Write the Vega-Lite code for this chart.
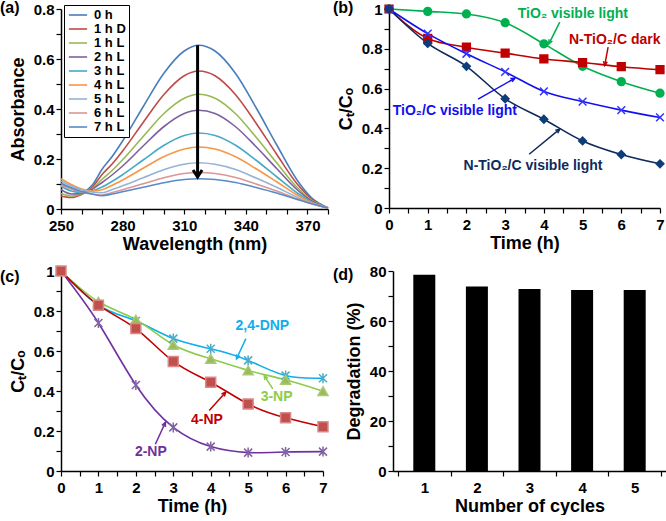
{
 "$schema": "https://vega.github.io/schema/vega-lite/v6.json",
 "padding": {"left": 0, "top": 0, "right": 0, "bottom": 0},
 "background": "white",
 "datasets": {
  "spec": [
   {"s":"0 h","nm":250,"A":0.100},{"s":"0 h","nm":255,"A":0.082},{"s":"0 h","nm":260,"A":0.068},{"s":"0 h","nm":265,"A":0.094},{"s":"0 h","nm":270,"A":0.159},{"s":"0 h","nm":275,"A":0.211},{"s":"0 h","nm":280,"A":0.272},{"s":"0 h","nm":290,"A":0.409},{"s":"0 h","nm":300,"A":0.542},{"s":"0 h","nm":310,"A":0.632},{"s":"0 h","nm":317,"A":0.655},{"s":"0 h","nm":325,"A":0.632},{"s":"0 h","nm":335,"A":0.542},{"s":"0 h","nm":345,"A":0.405},{"s":"0 h","nm":355,"A":0.257},{"s":"0 h","nm":365,"A":0.115},{"s":"0 h","nm":372,"A":0.045},{"s":"0 h","nm":380,"A":0.005},
   {"s":"1 h D","nm":250,"A":0.052},{"s":"1 h D","nm":255,"A":0.046},{"s":"1 h D","nm":260,"A":0.058},{"s":"1 h D","nm":265,"A":0.085},{"s":"1 h D","nm":270,"A":0.138},{"s":"1 h D","nm":275,"A":0.181},{"s":"1 h D","nm":280,"A":0.232},{"s":"1 h D","nm":290,"A":0.346},{"s":"1 h D","nm":300,"A":0.457},{"s":"1 h D","nm":310,"A":0.533},{"s":"1 h D","nm":317,"A":0.552},{"s":"1 h D","nm":325,"A":0.533},{"s":"1 h D","nm":335,"A":0.457},{"s":"1 h D","nm":345,"A":0.343},{"s":"1 h D","nm":355,"A":0.219},{"s":"1 h D","nm":365,"A":0.100},{"s":"1 h D","nm":372,"A":0.040},{"s":"1 h D","nm":380,"A":0.004},
   {"s":"1 h L","nm":250,"A":0.062},{"s":"1 h L","nm":255,"A":0.052},{"s":"1 h L","nm":260,"A":0.060},{"s":"1 h L","nm":265,"A":0.080},{"s":"1 h L","nm":270,"A":0.119},{"s":"1 h L","nm":275,"A":0.155},{"s":"1 h L","nm":280,"A":0.197},{"s":"1 h L","nm":290,"A":0.290},{"s":"1 h L","nm":300,"A":0.381},{"s":"1 h L","nm":310,"A":0.443},{"s":"1 h L","nm":317,"A":0.459},{"s":"1 h L","nm":325,"A":0.443},{"s":"1 h L","nm":335,"A":0.381},{"s":"1 h L","nm":345,"A":0.287},{"s":"1 h L","nm":355,"A":0.185},{"s":"1 h L","nm":365,"A":0.086},{"s":"1 h L","nm":372,"A":0.035},{"s":"1 h L","nm":380,"A":0.004},
   {"s":"2 h L","nm":250,"A":0.078},{"s":"2 h L","nm":255,"A":0.060},{"s":"2 h L","nm":260,"A":0.062},{"s":"2 h L","nm":265,"A":0.078},{"s":"2 h L","nm":270,"A":0.106},{"s":"2 h L","nm":275,"A":0.137},{"s":"2 h L","nm":280,"A":0.172},{"s":"2 h L","nm":290,"A":0.252},{"s":"2 h L","nm":300,"A":0.329},{"s":"2 h L","nm":310,"A":0.382},{"s":"2 h L","nm":317,"A":0.395},{"s":"2 h L","nm":325,"A":0.382},{"s":"2 h L","nm":335,"A":0.329},{"s":"2 h L","nm":345,"A":0.249},{"s":"2 h L","nm":355,"A":0.162},{"s":"2 h L","nm":365,"A":0.077},{"s":"2 h L","nm":372,"A":0.032},{"s":"2 h L","nm":380,"A":0.004},
   {"s":"3 h L","nm":250,"A":0.090},{"s":"3 h L","nm":255,"A":0.072},{"s":"3 h L","nm":260,"A":0.066},{"s":"3 h L","nm":265,"A":0.072},{"s":"3 h L","nm":270,"A":0.088},{"s":"3 h L","nm":275,"A":0.111},{"s":"3 h L","nm":280,"A":0.137},{"s":"3 h L","nm":290,"A":0.196},{"s":"3 h L","nm":300,"A":0.254},{"s":"3 h L","nm":310,"A":0.294},{"s":"3 h L","nm":317,"A":0.304},{"s":"3 h L","nm":325,"A":0.294},{"s":"3 h L","nm":335,"A":0.255},{"s":"3 h L","nm":345,"A":0.195},{"s":"3 h L","nm":355,"A":0.129},{"s":"3 h L","nm":365,"A":0.064},{"s":"3 h L","nm":372,"A":0.028},{"s":"3 h L","nm":380,"A":0.004},
   {"s":"4 h L","nm":250,"A":0.121},{"s":"4 h L","nm":255,"A":0.098},{"s":"4 h L","nm":260,"A":0.080},{"s":"4 h L","nm":265,"A":0.072},{"s":"4 h L","nm":270,"A":0.077},{"s":"4 h L","nm":275,"A":0.095},{"s":"4 h L","nm":280,"A":0.116},{"s":"4 h L","nm":290,"A":0.163},{"s":"4 h L","nm":300,"A":0.209},{"s":"4 h L","nm":310,"A":0.240},{"s":"4 h L","nm":317,"A":0.248},{"s":"4 h L","nm":325,"A":0.240},{"s":"4 h L","nm":335,"A":0.209},{"s":"4 h L","nm":345,"A":0.161},{"s":"4 h L","nm":355,"A":0.109},{"s":"4 h L","nm":365,"A":0.056},{"s":"4 h L","nm":372,"A":0.026},{"s":"4 h L","nm":380,"A":0.004},
   {"s":"5 h L","nm":250,"A":0.112},{"s":"5 h L","nm":255,"A":0.092},{"s":"5 h L","nm":260,"A":0.077},{"s":"5 h L","nm":265,"A":0.068},{"s":"5 h L","nm":270,"A":0.065},{"s":"5 h L","nm":275,"A":0.078},{"s":"5 h L","nm":280,"A":0.093},{"s":"5 h L","nm":290,"A":0.125},{"s":"5 h L","nm":300,"A":0.157},{"s":"5 h L","nm":310,"A":0.179},{"s":"5 h L","nm":317,"A":0.185},{"s":"5 h L","nm":325,"A":0.179},{"s":"5 h L","nm":335,"A":0.158},{"s":"5 h L","nm":345,"A":0.124},{"s":"5 h L","nm":355,"A":0.087},{"s":"5 h L","nm":365,"A":0.047},{"s":"5 h L","nm":372,"A":0.023},{"s":"5 h L","nm":380,"A":0.004},
   {"s":"6 h L","nm":250,"A":0.095},{"s":"6 h L","nm":255,"A":0.080},{"s":"6 h L","nm":260,"A":0.068},{"s":"6 h L","nm":265,"A":0.060},{"s":"6 h L","nm":270,"A":0.056},{"s":"6 h L","nm":275,"A":0.066},{"s":"6 h L","nm":280,"A":0.077},{"s":"6 h L","nm":290,"A":0.101},{"s":"6 h L","nm":300,"A":0.125},{"s":"6 h L","nm":310,"A":0.142},{"s":"6 h L","nm":317,"A":0.146},{"s":"6 h L","nm":325,"A":0.142},{"s":"6 h L","nm":335,"A":0.126},{"s":"6 h L","nm":345,"A":0.100},{"s":"6 h L","nm":355,"A":0.072},{"s":"6 h L","nm":365,"A":0.041},{"s":"6 h L","nm":372,"A":0.021},{"s":"6 h L","nm":380,"A":0.004},
   {"s":"7 h L","nm":250,"A":0.103},{"s":"7 h L","nm":255,"A":0.085},{"s":"7 h L","nm":260,"A":0.070},{"s":"7 h L","nm":265,"A":0.060},{"s":"7 h L","nm":270,"A":0.053},{"s":"7 h L","nm":275,"A":0.060},{"s":"7 h L","nm":280,"A":0.069},{"s":"7 h L","nm":290,"A":0.087},{"s":"7 h L","nm":300,"A":0.105},{"s":"7 h L","nm":310,"A":0.118},{"s":"7 h L","nm":317,"A":0.121},{"s":"7 h L","nm":325,"A":0.118},{"s":"7 h L","nm":335,"A":0.106},{"s":"7 h L","nm":345,"A":0.086},{"s":"7 h L","nm":355,"A":0.064},{"s":"7 h L","nm":365,"A":0.038},{"s":"7 h L","nm":372,"A":0.021},{"s":"7 h L","nm":380,"A":0.004}
  ],
  "kin": [
   {"s":"TiO2 visible light","t":0,"c":1},{"s":"TiO2 visible light","t":1,"c":0.988},{"s":"TiO2 visible light","t":2,"c":0.975},{"s":"TiO2 visible light","t":3,"c":0.931},{"s":"TiO2 visible light","t":4,"c":0.825},{"s":"TiO2 visible light","t":5,"c":0.712},{"s":"TiO2 visible light","t":6,"c":0.635},{"s":"TiO2 visible light","t":7,"c":0.577},
   {"s":"N-TiO2/C dark","t":0,"c":1},{"s":"N-TiO2/C dark","t":1,"c":0.852},{"s":"N-TiO2/C dark","t":2,"c":0.808},{"s":"N-TiO2/C dark","t":3,"c":0.778},{"s":"N-TiO2/C dark","t":4,"c":0.749},{"s":"N-TiO2/C dark","t":5,"c":0.731},{"s":"N-TiO2/C dark","t":6,"c":0.710},{"s":"N-TiO2/C dark","t":7,"c":0.695},
   {"s":"TiO2/C visible light","t":0,"c":1},{"s":"TiO2/C visible light","t":1,"c":0.876},{"s":"TiO2/C visible light","t":2,"c":0.775},{"s":"TiO2/C visible light","t":3,"c":0.684},{"s":"TiO2/C visible light","t":4,"c":0.586},{"s":"TiO2/C visible light","t":5,"c":0.535},{"s":"TiO2/C visible light","t":6,"c":0.492},{"s":"TiO2/C visible light","t":7,"c":0.455},
   {"s":"N-TiO2/C visible light","t":0,"c":1},{"s":"N-TiO2/C visible light","t":1,"c":0.827},{"s":"N-TiO2/C visible light","t":2,"c":0.712},{"s":"N-TiO2/C visible light","t":3,"c":0.549},{"s":"N-TiO2/C visible light","t":4,"c":0.446},{"s":"N-TiO2/C visible light","t":5,"c":0.337},{"s":"N-TiO2/C visible light","t":6,"c":0.269},{"s":"N-TiO2/C visible light","t":7,"c":0.222}
  ],
  "kinArrows": [
   {"s":"TiO2 visible light","t":4.41,"c":0.934,"t2":4.13,"c2":0.825},
   {"s":"N-TiO2/C dark","t":5.66,"c":0.808,"t2":5.57,"c2":0.716},
   {"s":"TiO2/C visible light","t":2.30,"c":0.547,"t2":3.25,"c2":0.652},
   {"s":"N-TiO2/C visible light","t":3.62,"c":0.270,"t2":4.41,"c2":0.396}
  ],
  "kinLabels": [
   {"s":"TiO2 visible light","t":4.75,"c":0.977,"label":"TiO₂ visible light"},
   {"s":"N-TiO2/C dark","t":5.83,"c":0.842,"label":"N-TiO₂/C dark"},
   {"s":"TiO2/C visible light","t":1.70,"c":0.488,"label":"TiO₂/C visible light"},
   {"s":"N-TiO2/C visible light","t":3.72,"c":0.211,"label":"N-TiO₂/C visible light"}
  ],
  "np": [
   {"s":"2,4-DNP","t":0,"c":1},{"s":"2,4-DNP","t":1,"c":0.829},{"s":"2,4-DNP","t":2,"c":0.750},{"s":"2,4-DNP","t":3,"c":0.662},{"s":"2,4-DNP","t":4,"c":0.611},{"s":"2,4-DNP","t":5,"c":0.553},{"s":"2,4-DNP","t":6,"c":0.477},{"s":"2,4-DNP","t":7,"c":0.464},
   {"s":"3-NP","t":0,"c":1},{"s":"3-NP","t":1,"c":0.846},{"s":"3-NP","t":2,"c":0.757},{"s":"3-NP","t":3,"c":0.631},{"s":"3-NP","t":4,"c":0.561},{"s":"3-NP","t":5,"c":0.503},{"s":"3-NP","t":6,"c":0.456},{"s":"3-NP","t":7,"c":0.399},
   {"s":"2-NP","t":0,"c":1},{"s":"2-NP","t":1,"c":0.740},{"s":"2-NP","t":2,"c":0.430},{"s":"2-NP","t":3,"c":0.218},{"s":"2-NP","t":4,"c":0.122},{"s":"2-NP","t":5,"c":0.092},{"s":"2-NP","t":6,"c":0.095},{"s":"2-NP","t":7,"c":0.097},
   {"s":"4-NP","t":0,"c":1},{"s":"4-NP","t":1,"c":0.829},{"s":"4-NP","t":2,"c":0.712},{"s":"4-NP","t":3,"c":0.548},{"s":"4-NP","t":4,"c":0.444},{"s":"4-NP","t":5,"c":0.335},{"s":"4-NP","t":6,"c":0.266},{"s":"4-NP","t":7,"c":0.221}
  ],
  "npArrows": [
   {"s":"2,4-DNP","t":4.94,"c":0.662,"t2":4.69,"c2":0.561},
   {"s":"3-NP","t":5.66,"c":0.411,"t2":5.43,"c2":0.477},
   {"s":"4-NP","t":3.96,"c":0.302,"t2":4.40,"c2":0.394},
   {"s":"2-NP","t":2.52,"c":0.134,"t2":2.79,"c2":0.243}
  ],
  "npLabels": [
   {"s":"2,4-DNP","t":5.38,"c":0.727,"label":"2,4-DNP"},
   {"s":"3-NP","t":5.76,"c":0.370,"label":"3-NP"},
   {"s":"4-NP","t":3.90,"c":0.255,"label":"4-NP"},
   {"s":"2-NP","t":2.40,"c":0.094,"label":"2-NP"}
  ],
  "cyc": [
   {"cycle":1,"deg":78.5},{"cycle":2,"deg":73.8},{"cycle":3,"deg":72.8},{"cycle":4,"deg":72.4},{"cycle":5,"deg":72.4}
  ]
 },
 "spacing": 10,
 "resolve": {"scale": {"x": "independent", "y": "independent", "color": "independent", "fill": "independent", "stroke": "independent", "shape": "independent"}},
 "vconcat": [
  {
   "spacing": 61,
   "bounds": "flush",
   "resolve": {"scale": {"x": "independent", "y": "independent", "color": "independent", "fill": "independent", "stroke": "independent", "shape": "independent"}},
   "hconcat": [
    {
     "width": 267, "height": 200,
     "title": {"text": "(a)", "dx": -61},
     "layer": [
      {
       "data": {"name": "spec"},
       "mark": {"type": "line", "strokeWidth": 1.6, "interpolate": "monotone"},
       "encoding": {
        "x": {"field": "nm", "type": "quantitative", "scale": {"domain": [250, 380], "nice": false, "zero": false},
              "axis": {"title": "Wavelength (nm)", "values": [250,260,270,280,290,300,310,320,330,340,350,360,370,380], "labelExpr": "(datum.value-250)%30==0 ? format(datum.value,'d') : ''"}},
        "y": {"field": "A", "type": "quantitative", "scale": {"domain": [0, 0.8], "nice": false},
              "axis": {"title": "Absorbance", "values": [0,0.1,0.2,0.3,0.4,0.5,0.6,0.7,0.8], "labelExpr": "round(datum.value*10)%2==0 ? format(datum.value,'~g') : ''"}},
        "color": {"field": "s", "type": "nominal",
                  "scale": {"domain": ["0 h","1 h D","1 h L","2 h L","3 h L","4 h L","5 h L","6 h L","7 h L"],
                            "range": ["#4A7EBB","#BE4B48","#98B954","#7D60A0","#46AAC5","#F79646","#95B3D7","#D99795","#5A8AC6"]},
                  "legend": {"orient": "none", "legendX": 3, "legendY": -4, "title": null, "symbolType": "M-1.6,0L1.6,0", "symbolSize": 130, "symbolStrokeWidth": 1.6, "symbolOffset": 4, "labelFontSize": 13, "labelFontWeight": "bold", "labelFont": "Liberation Sans", "labelColor": "black", "rowPadding": 0, "padding": 3, "strokeColor": "black", "fillColor": "white", "labelOffset": 9}}
       }
      },
      {
       "data": {"values": [{"nm": 316.5, "A": 0.655, "tip": 0.13}]},
       "mark": {"type": "rule", "strokeWidth": 3, "color": "black"},
       "encoding": {"x": {"field": "nm", "type": "quantitative"}, "y": {"field": "A", "type": "quantitative"}, "y2": {"field": "tip"}}
      },
      {
       "data": {"values": [{"nm": 316.5, "A": 0.128}]},
       "mark": {"type": "point", "shape": "M-0.9,-1.4L0,0L0.9,-1.4", "filled": false, "strokeWidth": 3, "color": "black", "size": 100, "opacity": 1},
       "encoding": {"x": {"field": "nm", "type": "quantitative"}, "y": {"field": "A", "type": "quantitative"}}
      }
     ]
    },
    {
     "width": 271, "height": 199,
     "title": {"text": "(b)", "dx": -56},
     "layer": [
      {
       "data": {"name": "kin"},
       "mark": {"type": "line", "strokeWidth": 1.6, "interpolate": "monotone"},
       "encoding": {
        "x": {"field": "t", "type": "quantitative", "scale": {"domain": [0, 7], "nice": false},
              "axis": {"title": "Time (h)", "values": [0,0.5,1,1.5,2,2.5,3,3.5,4,4.5,5,5.5,6,6.5,7], "labelExpr": "datum.value%1==0 ? format(datum.value,'d') : ''"}},
        "y": {"field": "c", "type": "quantitative", "scale": {"domain": [0, 1], "nice": false},
              "axis": {"title": "Cₜ/Cₒ", "values": [0,0.1,0.2,0.3,0.4,0.5,0.6,0.7,0.8,0.9,1], "labelExpr": "round(datum.value*10)%2==0 ? format(datum.value,'~g') : ''"}},
        "color": {"field": "s", "type": "nominal", "legend": null,
                  "scale": {"domain": ["TiO2 visible light","N-TiO2/C dark","TiO2/C visible light","N-TiO2/C visible light"], "range": ["#00B050","#C00000","#1010F0","#0F2A5C"]}}
       }
      },
      {
       "data": {"name": "kin"},
       "mark": {"type": "point", "filled": true, "opacity": 1, "strokeWidth": 1.5, "size": 60},
       "encoding": {
        "x": {"field": "t", "type": "quantitative"},
        "y": {"field": "c", "type": "quantitative"},
        "fill": {"field": "s", "type": "nominal", "legend": null, "scale": {"domain": ["TiO2 visible light","N-TiO2/C dark","TiO2/C visible light","N-TiO2/C visible light"], "range": ["#00B050","#C00000","#3333FF","#0F3D7A"]}},
        "stroke": {"field": "s", "type": "nominal", "legend": null, "scale": {"domain": ["TiO2 visible light","N-TiO2/C dark","TiO2/C visible light","N-TiO2/C visible light"], "range": ["#00B050","#C00000","#3333FF","#0F3D7A"]}},
        "shape": {"field": "s", "type": "nominal", "legend": null, "scale": {"domain": ["TiO2 visible light","N-TiO2/C dark","TiO2/C visible light","N-TiO2/C visible light"], "range": ["circle","square","M-1,-1L1,1M-1,1L1,-1","diamond"]}}
       }
      },
      {
       "data": {"name": "kinArrows"},
       "mark": {"type": "rule", "strokeWidth": 1.5},
       "encoding": {"x": {"field": "t", "type": "quantitative"}, "y": {"field": "c", "type": "quantitative"}, "x2": {"field": "t2"}, "y2": {"field": "c2"}, "color": {"field": "s", "type": "nominal", "legend": null}}
      },
      {
       "data": {"values": [{"s":"TiO2 visible light","t":4.13,"c":0.825}]},
       "mark": {"type": "point", "shape": "M-0.6,1.3L0,0L0.6,1.3", "filled": false, "strokeWidth": 1.5, "size": 40, "angle": 206, "opacity": 1},
       "encoding": {"x": {"field": "t", "type": "quantitative"}, "y": {"field": "c", "type": "quantitative"}, "color": {"field": "s", "type": "nominal", "legend": null}}
      },
      {
       "data": {"values": [{"s":"N-TiO2/C dark","t":5.57,"c":0.716}]},
       "mark": {"type": "point", "shape": "M-0.6,1.3L0,0L0.6,1.3", "filled": false, "strokeWidth": 1.5, "size": 40, "angle": 190, "opacity": 1},
       "encoding": {"x": {"field": "t", "type": "quantitative"}, "y": {"field": "c", "type": "quantitative"}, "color": {"field": "s", "type": "nominal", "legend": null}}
      },
      {
       "data": {"values": [{"s":"TiO2/C visible light","t":3.25,"c":0.652}]},
       "mark": {"type": "point", "shape": "M-0.6,1.3L0,0L0.6,1.3", "filled": false, "strokeWidth": 1.5, "size": 40, "angle": 61, "opacity": 1},
       "encoding": {"x": {"field": "t", "type": "quantitative"}, "y": {"field": "c", "type": "quantitative"}, "color": {"field": "s", "type": "nominal", "legend": null}}
      },
      {
       "data": {"values": [{"s":"N-TiO2/C visible light","t":4.41,"c":0.396}]},
       "mark": {"type": "point", "shape": "M-0.6,1.3L0,0L0.6,1.3", "filled": false, "strokeWidth": 1.5, "size": 40, "angle": 51, "opacity": 1},
       "encoding": {"x": {"field": "t", "type": "quantitative"}, "y": {"field": "c", "type": "quantitative"}, "color": {"field": "s", "type": "nominal", "legend": null}}
      },
      {
       "data": {"name": "kinLabels"},
       "mark": {"type": "text", "fontSize": 14, "fontWeight": "bold", "font": "Liberation Sans"},
       "encoding": {"x": {"field": "t", "type": "quantitative"}, "y": {"field": "c", "type": "quantitative"}, "text": {"field": "label"}, "color": {"field": "s", "type": "nominal", "legend": null}}
      }
     ]
    }
   ]
  },
  {
   "spacing": 70,
   "bounds": "flush",
   "resolve": {"scale": {"x": "independent", "y": "independent", "color": "independent", "fill": "independent", "stroke": "independent", "shape": "independent"}},
   "hconcat": [
    {
     "width": 262, "height": 200,
     "title": {"text": "(c)", "dx": -61, "dy": 8},
     "layer": [
      {
       "data": {"name": "np"},
       "mark": {"type": "line", "strokeWidth": 1.6, "interpolate": "natural"},
       "encoding": {
        "x": {"field": "t", "type": "quantitative", "scale": {"domain": [0, 7], "nice": false},
              "axis": {"title": "Time (h)", "values": [0,0.5,1,1.5,2,2.5,3,3.5,4,4.5,5,5.5,6,6.5,7], "labelExpr": "datum.value%1==0 ? format(datum.value,'d') : ''"}},
        "y": {"field": "c", "type": "quantitative", "scale": {"domain": [0, 1], "nice": false},
              "axis": {"title": "Cₜ/Cₒ", "values": [0,0.1,0.2,0.3,0.4,0.5,0.6,0.7,0.8,0.9,1], "labelExpr": "round(datum.value*10)%2==0 ? format(datum.value,'~g') : ''"}},
        "color": {"field": "s", "type": "nominal", "legend": null,
                  "scale": {"domain": ["2,4-DNP","3-NP","2-NP","4-NP"], "range": ["#10AEEA","#8CCB4C","#7030A0","#C00000"]}}
       }
      },
      {
       "data": {"name": "np"},
       "mark": {"type": "point", "filled": true, "opacity": 1, "strokeWidth": 1.5, "size": 100},
       "encoding": {
        "x": {"field": "t", "type": "quantitative"},
        "y": {"field": "c", "type": "quantitative"},
        "fill": {"field": "s", "type": "nominal", "legend": null, "scale": {"domain": ["2,4-DNP","3-NP","2-NP","4-NP"], "range": ["#4BACC6","#9BBB59","#8064A2","#C0504D"]}},
        "stroke": {"field": "s", "type": "nominal", "legend": null, "scale": {"domain": ["2,4-DNP","3-NP","2-NP","4-NP"], "range": ["#4BACC6","#A9C972","#8064A2","#D98A88"]}},
        "shape": {"field": "s", "type": "nominal", "legend": null, "scale": {"domain": ["2,4-DNP","3-NP","2-NP","4-NP"], "range": ["M-0.8,-0.8L0.8,0.8M-0.8,0.8L0.8,-0.8M0,-1L0,1","triangle-up","M-0.8,-0.8L0.8,0.8M-0.8,0.8L0.8,-0.8M0,-1L0,1","square"]}}
       }
      },
      {
       "data": {"name": "npArrows"},
       "mark": {"type": "rule", "strokeWidth": 1.5},
       "encoding": {"x": {"field": "t", "type": "quantitative"}, "y": {"field": "c", "type": "quantitative"}, "x2": {"field": "t2"}, "y2": {"field": "c2"}, "color": {"field": "s", "type": "nominal", "legend": null}}
      },
      {
       "data": {"values": [{"s":"2,4-DNP","t":4.69,"c":0.561}]},
       "mark": {"type": "point", "shape": "M-0.6,1.3L0,0L0.6,1.3", "filled": false, "strokeWidth": 1.5, "size": 40, "angle": 205, "opacity": 1},
       "encoding": {"x": {"field": "t", "type": "quantitative"}, "y": {"field": "c", "type": "quantitative"}, "color": {"field": "s", "type": "nominal", "legend": null}}
      },
      {
       "data": {"values": [{"s":"3-NP","t":5.43,"c":0.477}]},
       "mark": {"type": "point", "shape": "M-0.6,1.3L0,0L0.6,1.3", "filled": false, "strokeWidth": 1.5, "size": 40, "angle": 328, "opacity": 1},
       "encoding": {"x": {"field": "t", "type": "quantitative"}, "y": {"field": "c", "type": "quantitative"}, "color": {"field": "s", "type": "nominal", "legend": null}}
      },
      {
       "data": {"values": [{"s":"4-NP","t":4.40,"c":0.394}]},
       "mark": {"type": "point", "shape": "M-0.6,1.3L0,0L0.6,1.3", "filled": false, "strokeWidth": 1.5, "size": 40, "angle": 42, "opacity": 1},
       "encoding": {"x": {"field": "t", "type": "quantitative"}, "y": {"field": "c", "type": "quantitative"}, "color": {"field": "s", "type": "nominal", "legend": null}}
      },
      {
       "data": {"values": [{"s":"2-NP","t":2.79,"c":0.243}]},
       "mark": {"type": "point", "shape": "M-0.6,1.3L0,0L0.6,1.3", "filled": false, "strokeWidth": 1.5, "size": 40, "angle": 25, "opacity": 1},
       "encoding": {"x": {"field": "t", "type": "quantitative"}, "y": {"field": "c", "type": "quantitative"}, "color": {"field": "s", "type": "nominal", "legend": null}}
      },
      {
       "data": {"name": "npLabels"},
       "mark": {"type": "text", "fontSize": 14, "fontWeight": "bold", "font": "Liberation Sans"},
       "encoding": {"x": {"field": "t", "type": "quantitative"}, "y": {"field": "c", "type": "quantitative"}, "text": {"field": "label"}, "color": {"field": "s", "type": "nominal", "legend": null}}
      }
     ]
    },
    {
     "width": 273, "height": 200,
     "title": {"text": "(d)", "dx": -60, "dy": 5},
     "data": {"name": "cyc"},
     "mark": {"type": "bar", "width": 22, "color": "black"},
     "encoding": {
      "x": {"field": "cycle", "type": "quantitative", "scale": {"domain": [0.5, 5.5], "nice": false, "zero": false},
            "axis": {"title": "Number of cycles", "values": [0.5,1,1.5,2,2.5,3,3.5,4,4.5,5,5.5], "labelExpr": "datum.value%1==0 ? format(datum.value,'d') : ''",
                     "tickColor": {"condition": {"test": "datum.value%1==0", "value": "transparent"}, "value": "black"}}},
      "y": {"field": "deg", "type": "quantitative", "scale": {"domain": [0, 80], "nice": false},
            "axis": {"title": "Degradation (%)", "values": [0,10,20,30,40,50,60,70,80], "labelExpr": "datum.value%20==0 ? format(datum.value,'d') : ''"}}
     }
    }
   ]
  }
 ],
 "config": {
  "font": "Liberation Sans",
  "view": {"stroke": null},
  "title": {"font": "Liberation Sans", "fontSize": 16, "fontWeight": "bold", "anchor": "start", "frame": "group", "color": "black", "offset": -14},
  "axis": {"tickCount": 100, "domainColor": "black", "domainWidth": 1.5, "tickColor": "black", "tickWidth": 1.2, "tickSize": 5, "labelFontSize": 15, "labelFontWeight": "bold", "labelColor": "black", "labelFont": "Liberation Sans", "titleFontSize": 18, "titleFontWeight": "bold", "titleColor": "black", "titleFont": "Liberation Sans", "grid": false, "labelOverlap": false, "labelFlush": false},
  "axisX": {"labelPadding": 4, "titlePadding": 2},
  "axisY": {"labelPadding": 2, "titlePadding": 6}
 }
}
